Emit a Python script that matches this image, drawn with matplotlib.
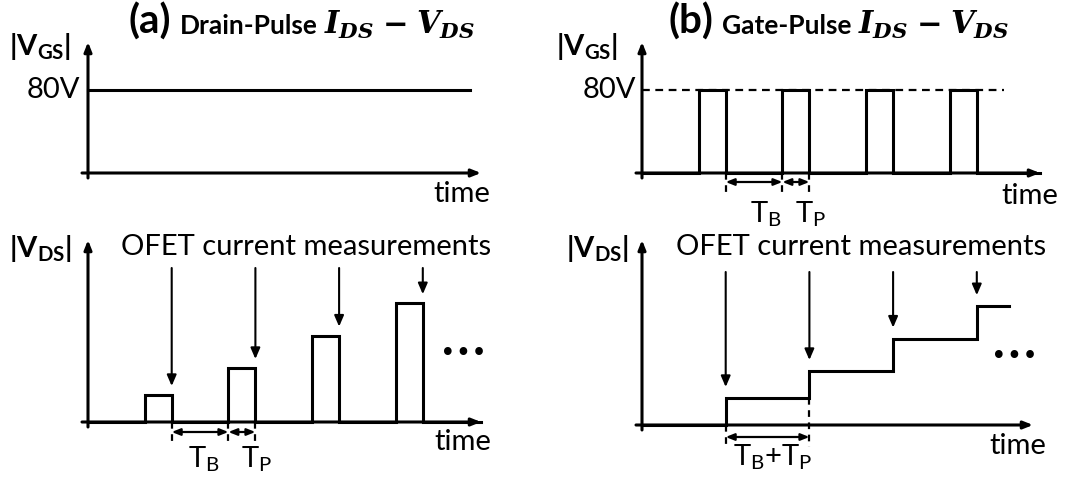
import matplotlib
matplotlib.use("Agg")
import matplotlib.pyplot as plt

# ---- fonts -------------------------------------------------------------
SANS = "Lato"
plt.rcParams["font.family"] = [SANS, "DejaVu Sans"]
plt.rcParams["mathtext.fontset"] = "custom"
plt.rcParams["mathtext.rm"] = SANS
plt.rcParams["mathtext.bf"] = SANS + ":bold"
plt.rcParams["mathtext.it"] = "DejaVu Serif:italic:bold"

# ---- waveform parameters (arbitrary time units) ------------------------
t_break = 2.1          # T_B
t_pulse = 1.0          # T_P
n_pulses = 4
vgs_on = 80            # gate level, V
vds_steps = [1.0, 2.0, 3.2, 4.4]   # drain amplitude per measurement (a.u.)
gate_line_end = 14.15  # constant gate bias in (a)
gate_ref_end = 13.4    # dashed 80 V reference in (b)
stair_end = 13.6       # last drain step in (b)

period = t_break + t_pulse
starts = [t_break + k * period for k in range(n_pulses)]
ends = [s + t_pulse for s in starts]

# ---- figure geometry ----------------------------------------------------
W, H, DPI = 1084, 479, 100
PX_T = 27.0            # pixels per time unit
PX_VGS = 83.0 / 80.0   # pixels per volt (gate panels)
PX_VDS = 27.0          # pixels per drain unit
FS = 21
LW = 2.2

fig = plt.figure(figsize=(W / DPI, H / DPI), dpi=DPI)
fig.patch.set_facecolor("white")

AX_ARROW = dict(arrowstyle="-|>,head_length=0.55,head_width=0.22", lw=LW,
                color="black", shrinkA=0, shrinkB=0)
MEAS_ARROW = dict(arrowstyle="-|>,head_length=0.65,head_width=0.28", lw=1.5,
                  color="black", shrinkA=0, shrinkB=0)
SPAN_ARROW = dict(arrowstyle="<|-|>,head_length=0.5,head_width=0.2", lw=1.6,
                  color="black", shrinkA=0, shrinkB=0)


def panel(ox, oy, tip_x, tip_y, py):
    """Axes whose data origin sits at pixel (ox, oy), with arrowed axes."""
    ax = fig.add_axes([ox / W, 1 - oy / H, (tip_x - ox) / W, (oy - tip_y) / H])
    xmax = (tip_x - ox) / PX_T
    ymax = (oy - tip_y) / py
    ax.set_xlim(0, xmax)
    ax.set_ylim(0, ymax)
    ax.axis("off")
    ax.annotate("", xy=(xmax, 0), xytext=(-6 / PX_T, 0),
                arrowprops=AX_ARROW, annotation_clip=False)
    ax.annotate("", xy=(0, ymax), xytext=(0, -5 / py),
                arrowprops=AX_ARROW, annotation_clip=False)
    return ax, xmax, ymax


def pulse_train(levels, t_end):
    t, v = [0.0], [0.0]
    for s, e, h in zip(starts, ends, levels):
        t += [s, s, e, e]
        v += [0, h, h, 0]
    t.append(t_end)
    v.append(0)
    return t, v


def staircase(levels, t_end):
    t, v = [0.0], [0.0]
    for k, h in enumerate(levels):
        nxt = ends[k + 1] if k + 1 < len(levels) else t_end
        t += [ends[k], ends[k], nxt]
        v += [v[-1], h, h]
    return t, v


def tick_dash(ax, t, top, bottom):
    ax.plot([t, t], [top, bottom], color="black", lw=1.6,
            ls=(0, (3, 2.5)), clip_on=False)


def span(ax, t0, t1, y):
    ax.annotate("", xy=(t1, y), xytext=(t0, y),
                arrowprops=SPAN_ARROW, annotation_clip=False)


def span_label(ax, t0, t1, text, dx, dy):
    ax.annotate(text, xy=((t0 + t1) / 2, 0), xytext=(dx, dy),
                textcoords="offset pixels", ha="center", va="baseline",
                fontsize=FS, annotation_clip=False)


def measure_arrows(ax, levels, tail, gap):
    for e, h in zip(ends, levels):
        ax.annotate("", xy=(e, h + gap), xytext=(e, tail),
                    arrowprops=MEAS_ARROW, annotation_clip=False)


def ylabel(x, y, sub):
    fig.text(x / W, 1 - y / H, r"|$\mathbf{V_{%s}}$|" % sub, fontsize=FS,
             fontweight="bold", ha="center", va="center")


def time_label(x, y):
    fig.text(x / W, 1 - y / H, "time", fontsize=FS, ha="center", va="center")


def dots(ax, t, v):
    ax.text(t, v, "•••", fontsize=19, ha="center", va="center",
            fontfamily="DejaVu Sans", clip_on=False)


def title(x0, y_base, pieces):
    """Lay text pieces side by side on a common baseline."""
    renderer = fig.canvas.get_renderer()
    x = x0
    for text, gap, kw in pieces:
        t = fig.text(x / W, 1 - y_base / H, text, ha="left", va="baseline",
                     **kw)
        x = t.get_window_extent(renderer).x1 + gap


# ===================== (a) Drain-pulse ===================================
ax, xm, ym = panel(88, 173, 481, 42, PX_VGS)
ax.plot([0, gate_line_end], [vgs_on, vgs_on], color="black", lw=LW,
        clip_on=False)
ax.text(-8 / PX_T, vgs_on, "%dV" % vgs_on, fontsize=FS, ha="right",
        va="center")
ylabel(40, 47, "GS")
time_label(462, 194)

ax, xm, ym = panel(88, 422, 481, 240, PX_VDS)
t, v = pulse_train(vds_steps, xm)
ax.plot(t, v, color="black", lw=LW, clip_on=False, solid_joinstyle="miter")
measure_arrows(ax, vds_steps, (422 - 268) / PX_VDS, 9 / PX_VDS)
ax.text(8.07, (422 - 247) / PX_VDS, "OFET current measurements",
        fontsize=FS, ha="center", va="center")
dots(ax, 13.9, 2.52)
low = -22 / PX_VDS
tick_dash(ax, ends[0], 0, low)
tick_dash(ax, starts[1], 0, low)
tick_dash(ax, ends[1], 0, low)
span(ax, ends[0], starts[1], -10 / PX_VDS)
span(ax, starts[1], ends[1], -10 / PX_VDS)
span_label(ax, ends[0], starts[1], r"T$_\mathrm{B}$", 4, -45)
span_label(ax, starts[1], ends[1], r"T$_\mathrm{P}$", 15, -45)
ylabel(40, 248, "DS")
time_label(463, 442)

# ===================== (b) Gate-pulse ====================================
ax, xm, ym = panel(642, 173, 1040, 42, PX_VGS)
ax.plot([0, gate_ref_end], [vgs_on, vgs_on], color="black", lw=1.6,
        ls=(0, (3.5, 2.5)), clip_on=False)
t, v = pulse_train([vgs_on] * n_pulses, xm)
ax.plot(t, v, color="black", lw=LW, clip_on=False, solid_joinstyle="miter")
ax.text(-6 / PX_T, vgs_on, "%dV" % vgs_on, fontsize=FS, ha="right",
        va="center")
low = -22 / PX_VGS
tick_dash(ax, ends[0], 0, low)
tick_dash(ax, starts[1], 0, low)
tick_dash(ax, ends[1], 0, low)
span(ax, ends[0], starts[1], -9 / PX_VGS)
span(ax, starts[1], ends[1], -9 / PX_VGS)
span_label(ax, ends[0], starts[1], r"T$_\mathrm{B}$", 12, -49)
span_label(ax, starts[1], ends[1], r"T$_\mathrm{P}$", 15, -49)
ylabel(587, 47, "GS")
time_label(1030, 196)

ax, xm, ym = panel(642, 425, 1033, 240, PX_VDS)
t, v = staircase(vds_steps, stair_end)
ax.plot(t, v, color="black", lw=LW, clip_on=False, solid_joinstyle="miter")
measure_arrows(ax, vds_steps, (425 - 272) / PX_VDS, 11 / PX_VDS)
ax.text(8.1, (425 - 247) / PX_VDS, "OFET current measurements",
        fontsize=FS, ha="center", va="center")
dots(ax, 13.78, 2.52)
low = -22 / PX_VDS
tick_dash(ax, ends[0], 0, low)
tick_dash(ax, ends[1], vds_steps[0], low)
span(ax, ends[0], ends[1], -12 / PX_VDS)
span_label(ax, ends[0], ends[1], r"T$_\mathrm{B}$+T$_\mathrm{P}$", 5, -40)
ylabel(597, 248, "DS")
time_label(1018, 446)

# ---- panel titles -------------------------------------------------------
TAG = dict(fontsize=29, fontweight="bold")
NAME = dict(fontsize=19, fontweight="bold")
MATH = dict(fontsize=22)
MINUS = dict(fontsize=22, fontfamily="DejaVu Serif", fontweight="bold")
for x0, tag, name in [(128, "(a)", "Drain-Pulse"), (668, "(b)", "Gate-Pulse")]:
    title(x0, 34, [(tag, 9, TAG), (name, 7, NAME), (r"$I_{DS}$", 8, MATH),
                   ("\u2212", 8, MINUS), (r"$V_{DS}$", 0, MATH)])

fig.savefig("out.png", dpi=DPI, facecolor="white")
